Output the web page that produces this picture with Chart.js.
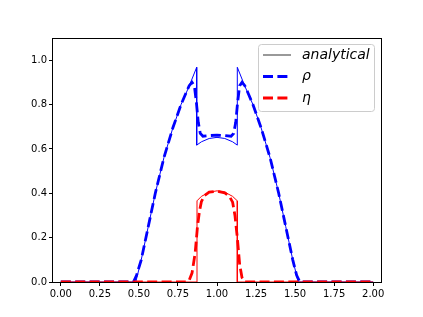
<!DOCTYPE html>
<html>
<head>
<meta charset="utf-8">
<script src="https://cdn.jsdelivr.net/npm/chart.js@4"></script>
<style>
  body { margin: 0; background: #fff; }
  #wrap { width: 423px; height: 317px; }
</style>
</head>
<body>
<div id="wrap"><canvas id="chart" width="423" height="317"></canvas></div>
<script>
// vrednosti procitane sa slike
const xTicks = [0, 0.25, 0.5, 0.75, 1.0, 1.25, 1.5, 1.75, 2.0];
const yTicks = [0, 0.2, 0.4, 0.6, 0.8, 1.0];
const seriesLabels = ['analytical', 'ρ', 'η'];

// analiticko resenje - rho
const anaRhoX = [0, 0.48, 0.515, 0.56, 0.605, 0.66, 0.717, 0.77, 0.82, 0.87, 0.87, 0.9, 0.95, 1.0, 1.05, 1.1, 1.13, 1.13, 1.18, 1.23, 1.283, 1.34, 1.395, 1.44, 1.485, 1.52, 2.0];
const anaRhoY = [0, 0, 0.1, 0.25, 0.4, 0.56, 0.694, 0.8, 0.88, 0.968, 0.617, 0.632, 0.647, 0.652, 0.647, 0.632, 0.617, 0.968, 0.88, 0.8, 0.694, 0.56, 0.4, 0.25, 0.1, 0, 0];

// analiticko resenje - eta
const anaEtaX = [0, 0.872, 0.872, 0.9, 0.95, 1.0, 1.05, 1.1, 1.13, 1.13, 2.0];
const anaEtaY = [0, 0, 0.366, 0.386, 0.405, 0.411, 0.405, 0.386, 0.366, 0, 0];

// numericko resenje - rho
const numRhoX = [0, 0.465, 0.485, 0.515, 0.56, 0.605, 0.66, 0.717, 0.77, 0.8, 0.822, 0.84, 0.855, 0.868, 0.88, 0.893, 0.91, 0.95, 1.0, 1.05, 1.09, 1.107, 1.12, 1.132, 1.145, 1.16, 1.178, 1.2, 1.23, 1.283, 1.34, 1.395, 1.44, 1.485, 1.51, 1.53, 2.0];
const numRhoY = [0, 0, 0.03, 0.1, 0.25, 0.4, 0.56, 0.694, 0.8, 0.85, 0.885, 0.9, 0.885, 0.81, 0.72, 0.67, 0.657, 0.66, 0.662, 0.66, 0.657, 0.67, 0.72, 0.81, 0.885, 0.9, 0.885, 0.85, 0.8, 0.694, 0.56, 0.4, 0.25, 0.1, 0.03, 0, 0];

// numericko resenje - eta
const numEtaX = [0, 0.8, 0.82, 0.84, 0.86, 0.875, 0.888, 0.9, 0.92, 0.95, 1.0, 1.05, 1.08, 1.1, 1.115, 1.13, 1.145, 1.16, 1.18, 2.0];
const numEtaY = [0, 0, 0.005, 0.04, 0.13, 0.25, 0.32, 0.362, 0.39, 0.405, 0.41, 0.402, 0.385, 0.36, 0.3, 0.2, 0.08, 0.02, 0, 0];

function toPoints(xs, ys) {
    return xs.map((x, i) => ({ x: x, y: ys[i] }));
}

// okvir oko grafika (sve cetiri strane)
const framePlugin = {
    id: 'frame',
    afterDatasetsDraw(chart) {
        const a = chart.chartArea;
        const ctx = chart.ctx;
        ctx.save();
        ctx.strokeStyle = '#000';
        ctx.lineWidth = 1;
        ctx.strokeRect(Math.round(a.left) - 0.5, Math.round(a.top) + 0.5,
            Math.round(a.right - a.left) + 1, Math.round(a.bottom - a.top));
        ctx.restore();
    }
};

// legenda u gornjem desnom uglu
const legendPlugin = {
    id: 'mplLegend',
    afterDraw(chart) {
        const ctx = chart.ctx;
        const bx = 258.5, by = 44.5, bw = 116, bh = 67, r = 3;
        ctx.save();
        ctx.beginPath();
        ctx.moveTo(bx + r, by);
        ctx.arcTo(bx + bw, by, bx + bw, by + bh, r);
        ctx.arcTo(bx + bw, by + bh, bx, by + bh, r);
        ctx.arcTo(bx, by + bh, bx, by, r);
        ctx.arcTo(bx, by, bx + bw, by, r);
        ctx.closePath();
        ctx.fillStyle = 'rgba(255,255,255,0.8)';
        ctx.fill();
        ctx.strokeStyle = '#cccccc';
        ctx.lineWidth = 1;
        ctx.stroke();

        const rows = [55, 76.5, 98];
        const styles = [
            { color: '#555555', width: 1.2, dash: [] },
            { color: '#0000ff', width: 2.8, dash: [10, 4.4] },
            { color: '#ff0000', width: 2.8, dash: [10, 4.4] }
        ];
        ctx.font = 'italic 14px "DejaVu Sans"';
        ctx.textBaseline = 'middle';
        ctx.textAlign = 'left';
        rows.forEach((y, i) => {
            const s = styles[i];
            ctx.beginPath();
            ctx.setLineDash(s.dash);
            ctx.strokeStyle = s.color;
            ctx.lineWidth = s.width;
            ctx.moveTo(263, y);
            ctx.lineTo(291, y);
            ctx.stroke();
            ctx.setLineDash([]);
            ctx.fillStyle = '#000';
            ctx.fillText(seriesLabels[i], 302, y);
        });
        ctx.restore();
    }
};

const ctx = document.getElementById('chart').getContext('2d');
new Chart(ctx, {
    type: 'scatter',
    data: {
        datasets: [
            {
                label: seriesLabels[2],
                data: toPoints(numEtaX, numEtaY),
                showLine: true,
                borderColor: '#ff0000',
                borderWidth: 2.8,
                borderDash: [10, 4.4],
                pointRadius: 0,
                order: 0
            },
            {
                label: seriesLabels[1],
                data: toPoints(numRhoX, numRhoY),
                showLine: true,
                borderColor: '#0000ff',
                borderWidth: 2.8,
                borderDash: [10, 4.4],
                pointRadius: 0,
                order: 1
            },
            {
                label: seriesLabels[0],
                data: toPoints(anaEtaX, anaEtaY),
                showLine: true,
                borderColor: '#ff0000',
                borderWidth: 1,
                pointRadius: 0,
                order: 2
            },
            {
                label: seriesLabels[0] + ' rho',
                data: toPoints(anaRhoX, anaRhoY),
                showLine: true,
                borderColor: '#0000ff',
                borderWidth: 1,
                pointRadius: 0,
                order: 3
            }
        ]
    },
    options: {
        responsive: false,
        animation: false,
        layout: { padding: { left: 0, top: 38, right: 42, bottom: 0 } },
        plugins: {
            legend: { display: false },
            tooltip: { enabled: false }
        },
        scales: {
            x: {
                type: 'linear',
                min: -0.05,
                max: 2.05,
                afterBuildTicks: scale => { scale.ticks = xTicks.map(v => ({ value: v })); },
                afterFit: scale => { scale.height = 35; },
                border: { display: false },
                grid: { display: true, drawOnChartArea: false, drawTicks: true, tickLength: 4, color: '#000' },
                ticks: {
                    color: '#000',
                    padding: 2,
                    maxRotation: 0,
                    font: { family: 'DejaVu Sans', size: 10 },
                    callback: v => v.toFixed(2)
                }
            },
            y: {
                type: 'linear',
                min: 0,
                max: 1.1,
                afterBuildTicks: scale => { scale.ticks = yTicks.map(v => ({ value: v })); },
                afterFit: scale => { scale.width = 53; },
                border: { display: false },
                grid: { display: true, drawOnChartArea: false, drawTicks: true, tickLength: 4, color: '#000' },
                ticks: {
                    color: '#000',
                    padding: 2,
                    font: { family: 'DejaVu Sans', size: 10 },
                    callback: v => v.toFixed(1)
                }
            }
        }
    },
    plugins: [framePlugin, legendPlugin]
});
</script>
</body>
</html>
